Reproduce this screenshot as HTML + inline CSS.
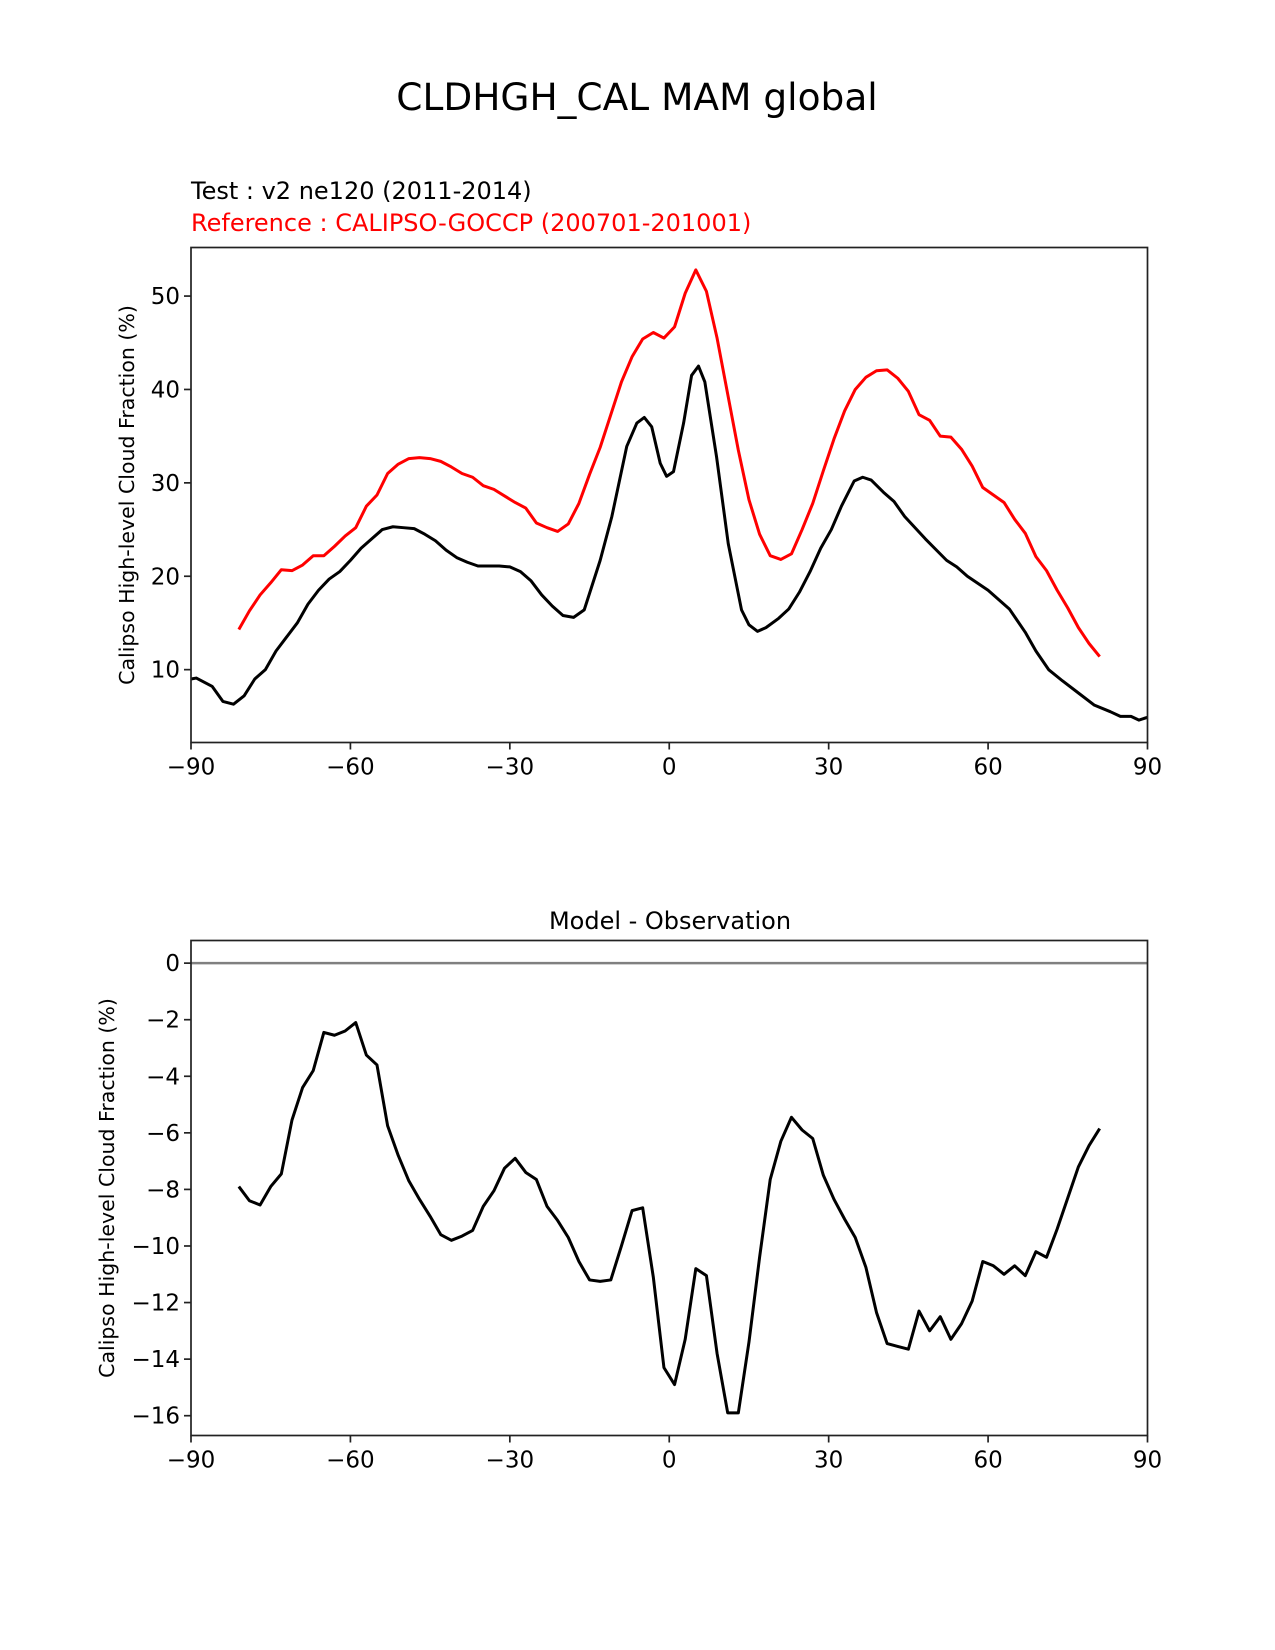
<!DOCTYPE html>
<html><head><meta charset="utf-8"><style>
body{margin:0;background:#fff}
svg{display:block;font-family:"DejaVu Sans","Liberation Sans",sans-serif}
</style></head><body>
<svg id="fig" width="1275" height="1650" viewBox="0 0 1275 1650">
<text x="637" y="110" font-size="37.5" text-anchor="middle">CLDHGH_CAL MAM global</text>
<text x="191" y="199" font-size="24">Test : v2 ne120 (2011-2014)</text>
<text x="191" y="231" font-size="24" fill="#ff0000">Reference : CALIPSO-GOCCP (200701-201001)</text>
<text x="670" y="929" font-size="24" text-anchor="middle">Model - Observation</text>
<text transform="translate(134,495) rotate(-90)" font-size="20.5" text-anchor="middle">Calipso High-level Cloud Fraction (%)</text>
<text transform="translate(114,1188) rotate(-90)" font-size="20.5" text-anchor="middle">Calipso High-level Cloud Fraction (%)</text>
<g id="top"></g>
<g id="bot"></g>
</svg>
<script>
const xTicks=[-90,-60,-30,0,30,60,90];
const topYTicks=[10,20,30,40,50];
const botYTicks=[0,-2,-4,-6,-8,-10,-12,-14,-16];
const modelLat=[-90,-89,-86,-84,-82,-80,-78,-76,-74,-72,-70,-68,-66,-64,-62,-60,-58,-56,-54,-52,-50,-48,-46,-44,-42,-40,-38,-36,-34,-32,-30,-28,-26,-24,-22,-20,-18,-16,-13,-10.8,-8,-6.1,-4.7,-3.3,-1.7,-0.5,0.8,2.7,4.2,5.5,6.7,8.9,11.1,13.6,15,16.6,18.2,20.6,22.5,24.5,26.5,28.5,30.5,32.4,34.8,36.4,38,40.3,42.3,44.3,48.2,52.2,54.1,56.1,60,64,67,69,71.4,74,77,80,83,84.9,86.9,88.4,90];
const modelVal=[9,9.1,8.2,6.6,6.3,7.2,9,10,12,13.5,15,17,18.5,19.7,20.5,21.7,23,24,25,25.3,25.2,25.1,24.5,23.8,22.8,22,21.5,21.1,21.1,21.1,21,20.5,19.5,18,16.8,15.8,15.6,16.4,21.7,26.4,33.9,36.4,37,36,32.1,30.7,31.2,36.4,41.5,42.5,40.8,32.8,23.5,16.4,14.8,14.1,14.5,15.5,16.5,18.3,20.5,23,25,27.5,30.2,30.6,30.3,29,28,26.4,24,21.7,21,20,18.5,16.5,14,12,10,8.8,7.5,6.2,5.5,5,5,4.6,4.9];
const refLat=[];for(let l=-81;l<=81;l+=2)refLat.push(l);
const refVal=[14.3,16.3,18,19.3,20.7,20.6,21.2,22.2,22.2,23.2,24.3,25.2,27.5,28.7,31,32,32.6,32.7,32.6,32.3,31.7,31,30.6,29.7,29.3,28.6,27.9,27.3,25.7,25.2,24.8,25.6,27.8,30.9,33.8,37.3,40.8,43.5,45.4,46.1,45.5,46.7,50.3,52.8,50.5,45.5,39.5,33.5,28.2,24.5,22.2,21.8,22.4,25,27.8,31.3,34.7,37.7,40,41.3,42,42.1,41.2,39.8,37.3,36.7,35,34.9,33.6,31.8,29.5,28.7,27.9,26.1,24.6,22.1,20.6,18.5,16.6,14.5,12.8,11.4];
const diffVal=[-7.9,-8.4,-8.55,-7.9,-7.45,-5.55,-4.4,-3.8,-2.45,-2.55,-2.4,-2.1,-3.25,-3.6,-5.75,-6.8,-7.7,-8.35,-8.95,-9.6,-9.8,-9.65,-9.45,-8.6,-8.05,-7.25,-6.9,-7.4,-7.65,-8.6,-9.1,-9.7,-10.55,-11.2,-11.25,-11.2,-10,-8.75,-8.65,-11.1,-14.3,-14.9,-13.3,-10.8,-11.05,-13.8,-15.9,-15.9,-13.4,-10.4,-7.65,-6.3,-5.45,-5.9,-6.2,-7.5,-8.35,-9.05,-9.7,-10.75,-12.35,-13.45,-13.55,-13.65,-12.3,-13,-12.5,-13.3,-12.75,-11.95,-10.55,-10.7,-11,-10.7,-11.05,-10.2,-10.4,-9.4,-8.3,-7.2,-6.45,-5.85];
const NS='http://www.w3.org/2000/svg';
function mk(p,t,a){const e=document.createElementNS(NS,t);for(const k in a)e.setAttribute(k,a[k]);p.appendChild(e);return e;}
const L=191,R=1147.5;
function xs(v){return L+(v+90)/180*(R-L);}
function panel(g,top,bot,ymin,ymax,yt,series,zero){
  const ys=v=>bot-(v-ymin)/(ymax-ymin)*(bot-top);
  if(zero){const z=mk(g,'line',{x1:L,x2:R,y1:ys(0),y2:ys(0),stroke:'#808080','stroke-width':2.5});
    
    }
  series.forEach(s=>{
    const p=mk(g,'polyline',{points:s.x.map((x,i)=>xs(x)+','+ys(s.y[i])).join(' '),fill:'none',stroke:s.c,'stroke-width':3,'stroke-linejoin':'round'});
    
    
  });
  const f=mk(g,'rect',{x:L,y:top,width:R-L,height:bot-top,fill:'none',stroke:'#222','stroke-width':1.7});
  
  
  xTicks.forEach(t=>{
    mk(g,'line',{x1:xs(t),x2:xs(t),y1:bot,y2:bot+7,stroke:'#222','stroke-width':1.7});
    const tx=mk(g,'text',{x:xs(t),y:bot+32,'font-size':23,'text-anchor':'middle'});
    tx.textContent=String(t).replace('-','\u2212');
    
    
  });
  yt.forEach(t=>{
    mk(g,'line',{x1:L-7,x2:L,y1:ys(t),y2:ys(t),stroke:'#222','stroke-width':1.7});
    const tx=mk(g,'text',{x:L-11,y:ys(t)+8,'font-size':23,'text-anchor':'end'});
    tx.textContent=String(t).replace('-','\u2212');
    
    
  });
}
panel(document.getElementById('top'),247.5,742.5,2.2,55.2,topYTicks,
 [{x:refLat,y:refVal,c:'#ff0000',n:'reference-line'},{x:modelLat,y:modelVal,c:'#000',n:'model-line'}],false);
panel(document.getElementById('bot'),940.5,1435.5,-16.7,0.8,botYTicks,
 [{x:refLat,y:diffVal,c:'#000',n:'difference-line'}],true);
</script>
</body></html>
